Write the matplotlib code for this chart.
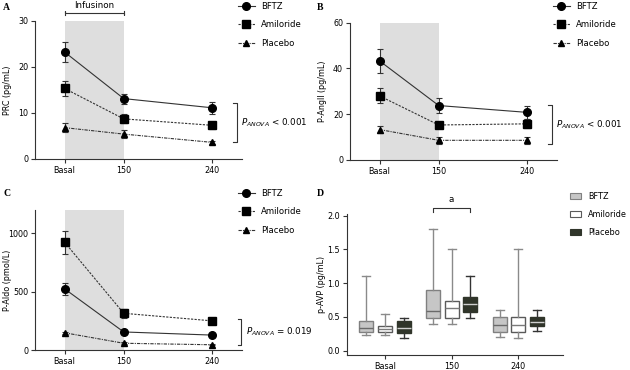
import numpy as np
import matplotlib
matplotlib.use("Agg")
import matplotlib.pyplot as plt
from matplotlib.patches import Patch
from matplotlib.lines import Line2D

plt.rcParams['font.family'] = ['DejaVu Sans']
plt.rcParams['font.size'] = 5.8
plt.rcParams['mathtext.fontset'] = 'dejavusans'

times = ['Basal', '150', '240']
xpos = [0, 1, 2.5]
groups = ['BFTZ', 'Amiloride', 'Placebo']

# panel A: PRC (pg/mL)
prc_mean = [[23.2, 13.1, 11.1], [15.3, 8.7, 7.3], [6.8, 5.4, 3.6]]
prc_err = [[2.2, 1.1, 1.3], [1.6, 1.0, 0.7], [1.0, 0.9, 0.4]]
# panel B: P-AngII (pg/mL)
ang_mean = [[43.3, 23.8, 20.8], [28.0, 15.3, 15.8], [13.3, 8.6, 8.6]]
ang_err = [[5.3, 3.2, 2.8], [3.3, 1.5, 2.0], [1.5, 1.6, 1.5]]
# panel C: P-Aldo (pmol/L)
ald_mean = [[525, 155, 128], [925, 315, 250], [148, 58, 45]]
ald_err = [[50, 15, 12], [100, 40, 20], [10, 8, 6]]

# panel D: p-AVP box stats (whislo, q1, med, q3, whishi) per time, per group
avp_stats = {
    'Basal': [(0.23, 0.28, 0.34, 0.44, 1.1), (0.23, 0.28, 0.32, 0.36, 0.55), (0.19, 0.26, 0.33, 0.44, 0.49)],
    '150': [(0.39, 0.49, 0.59, 0.90, 1.8), (0.39, 0.49, 0.63, 0.73, 1.5), (0.49, 0.58, 0.69, 0.80, 1.1)],
    '240': [(0.20, 0.28, 0.38, 0.50, 0.6), (0.18, 0.28, 0.38, 0.50, 1.5), (0.29, 0.36, 0.42, 0.50, 0.6)],
}

line_col = '#333333'
styles = [dict(ls='-', marker='o', ms=5.5),
          dict(ls=(0, (2, 1.2)), marker='s', ms=5.2),
          dict(ls=(0, (3, 1, 1, 1)), marker='^', ms=4)]

fig = plt.figure(figsize=(6.3, 3.7), dpi=100)


def style_axes(ax):
    for s in ['top', 'right']:
        ax.spines[s].set_visible(False)
    for s in ['left', 'bottom']:
        ax.spines[s].set_color(line_col)
        ax.spines[s].set_linewidth(0.8)
    ax.tick_params(direction='out', length=3, width=0.8, color=line_col, pad=2)


def line_panel(rect, means, errs, ylim, yticks, ylabel, ptext, br, brx, legx, legy):
    ax = fig.add_axes(rect)
    ax.axvspan(0, 1, color='#dedede', lw=0, zorder=0)
    for i in range(3):
        ax.errorbar(xpos, means[i], yerr=errs[i], color=line_col, mfc='black', mec='black',
                    lw=0.8, elinewidth=0.8, capsize=2.5, capthick=0.8, zorder=3,
                    **styles[i])
    ax.set_xlim(-0.5, 3.0)
    ax.set_ylim(*ylim)
    ax.set_yticks(yticks)
    ax.set_xticks(xpos)
    ax.set_xticklabels(times)
    ax.set_ylabel(ylabel)
    ax.yaxis.set_label_coords(-0.112, 0.5)
    style_axes(ax)
    # ANOVA bracket
    dx = 0.06
    ax.plot([brx - dx, brx, brx, brx - dx], [br[1], br[1], br[0], br[0]],
            color=line_col, lw=0.8, clip_on=False)
    ax.text(brx + 0.07, (br[0] + br[1]) / 2, ptext, ha='left', va='center', fontsize=6.3)
    handles = [Line2D([], [], color=line_col, mfc='black', mec='black', lw=0.8, **styles[i])
               for i in range(3)]
    fig.legend(handles, groups, loc='upper left', bbox_to_anchor=(legx, legy),
               frameon=False, borderpad=0, borderaxespad=0, handlelength=2.0,
               handletextpad=0.7, labelspacing=1.1, fontsize=6.1, numpoints=1)
    return ax


axA = line_panel([35 / 630, 0.5703, 207 / 630, 0.3738], prc_mean, prc_err, (0, 30),
                 [0, 10, 20, 30], 'PRC (pg/mL)', r'$P_{ANOVA}$ < 0.001', (3.7, 12.1), 2.91,
                 238 / 630, 1 - 2 / 370)
axA.plot([0, 0, 0, 1, 1, 1], [31.2, 32.2, 31.7, 31.7, 31.2, 32.2], color=line_col,
         lw=0.8, clip_on=False)
axA.text(0.5, 32.3, 'Infusinon', ha='center', va='bottom', fontsize=6.3)

line_panel([350 / 630, 0.5676, 207 / 630, 0.371], ang_mean, ang_err, (0, 60),
           [0, 20, 40, 60], 'P-AngII (pg/mL)', r'$P_{ANOVA}$ < 0.001', (7.0, 23.9), 2.91,
           553 / 630, 1 - 2 / 370)

line_panel([35 / 630, 0.054, 207 / 630, 0.378], ald_mean, ald_err, (0, 1200),
           [0, 500, 1000], 'P-Aldo (pmol/L)', r'$P_{ANOVA}$ = 0.019', (43, 265), 2.99,
           238 / 630, 1 - 189 / 370)

# panel D
axD = fig.add_axes([347 / 630, 0.0405, 216 / 630, 0.380])
face = ['#c6c6c6', 'white', '#30352a']
edge = ['#808080', '#5a5a5a', '#30352a']
whisk = ['#8a8a8a', '#8a8a8a', '#333333']
med = ['#6a6a6a', '#7a7a7a', '#cfcfcf']
offs = [-0.28, 0, 0.28]
for t, key in enumerate(times):
    for g in range(3):
        lo, q1, m, q3, hi = avp_stats[key][g]
        st = [dict(whislo=lo, q1=q1, med=m, q3=q3, whishi=hi, fliers=[])]
        axD.bxp(st, positions=[t + offs[g]], widths=0.21, capwidths=0.12,
                patch_artist=True, showfliers=False,
                boxprops=dict(facecolor=face[g], edgecolor=edge[g], lw=1.0),
                whiskerprops=dict(color=whisk[g], lw=1.0),
                capprops=dict(color=whisk[g], lw=1.0),
                medianprops=dict(color=med[g], lw=1.0))
axD.set_xlim(-0.57, 2.67)
axD.set_ylim(-0.065, 2.02)
axD.set_xticks([0, 1, 2])
axD.set_xticklabels(times)
axD.set_yticks([0, 0.5, 1.0, 1.5, 2.0])
axD.set_yticklabels(['0.0', '0.5', '1.0', '1.5', '2.0'])
axD.set_ylabel('p-AVP (pg/mL)')
axD.yaxis.set_label_coords(-0.097, 0.5)
style_axes(axD)
axD.plot([0.72, 0.72, 1.28, 1.28], [2.05, 2.11, 2.11, 2.05], color=line_col, lw=0.8,
         clip_on=False)
axD.text(1.0, 2.17, 'a', ha='center', va='bottom', fontsize=6.3)
hD = [Patch(facecolor=face[g], edgecolor=edge[g], lw=0.8) for g in range(3)]
fig.legend(hD, groups, loc='upper left', bbox_to_anchor=(570 / 630, 1 - 192 / 370),
           frameon=False, borderpad=0, borderaxespad=0, handlelength=1.4, handleheight=0.7,
           handletextpad=0.8, labelspacing=1.1, fontsize=5.9)

for lab, x, y in [('A', 3, 8), ('B', 317, 8), ('C', 3, 193), ('D', 317, 194)]:
    fig.text(x / 630, 1 - y / 370, lab, fontweight='bold', fontsize=7,
             family='Liberation Serif', va='center', ha='left')

fig.savefig('out.png', dpi=100)
